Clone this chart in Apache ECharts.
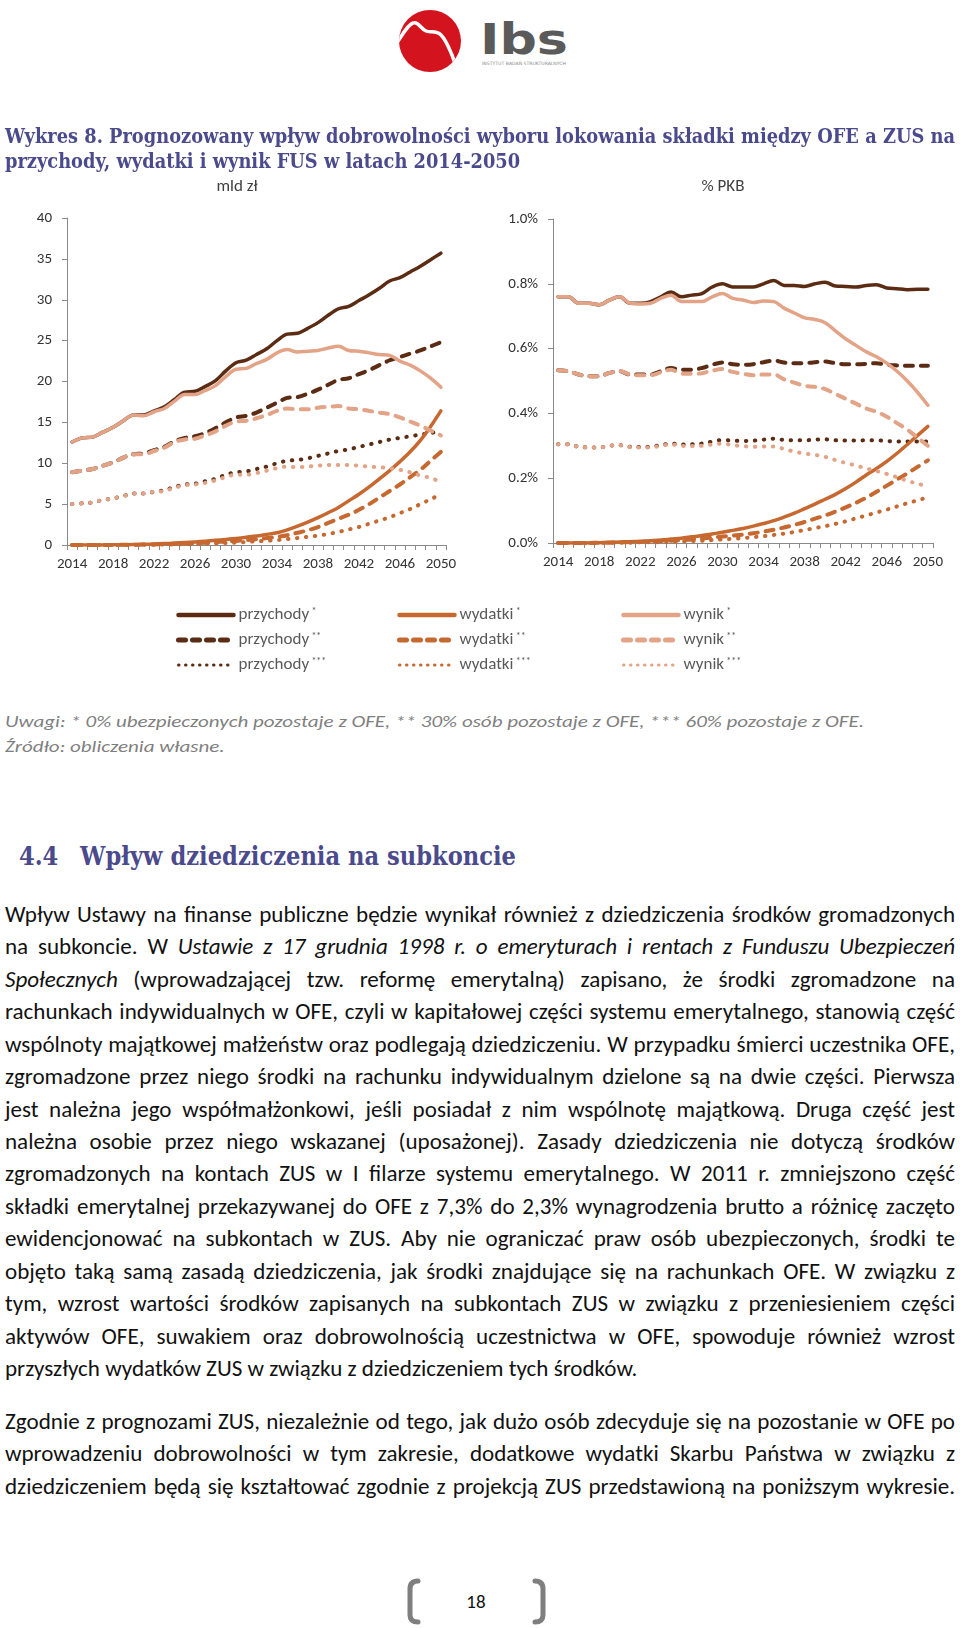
<!DOCTYPE html>
<html lang="pl">
<head>
<meta charset="utf-8">
<script src="https://cdn.jsdelivr.net/npm/echarts@6/dist/echarts.min.js"></script>
<style>
  html,body{margin:0;padding:0;background:#fff;}
  body{width:960px;height:1628px;position:relative;overflow:hidden;}
  .abs{position:absolute;}
  .title{left:5px;font-family:"DejaVu Serif","Liberation Serif",serif;font-weight:bold;font-size:21px;color:#4b4a8c;white-space:nowrap;transform-origin:left center;line-height:24px;}
  .note{left:5px;font-family:Carlito,Lato,sans-serif;font-style:italic;font-size:17px;color:#7f7f7f;white-space:nowrap;transform-origin:left center;line-height:22px;}
  .head{font-family:"DejaVu Serif","Liberation Serif",serif;font-weight:bold;font-size:26px;color:#4b4a8c;white-space:nowrap;transform-origin:left center;line-height:30px;}
  .ln{position:absolute;left:5px;width:950px;height:32px;line-height:32px;text-align:justify;text-align-last:justify;font-family:Carlito,Lato,sans-serif;font-size:18px;color:#111;}
  .ln.last{text-align-last:left;}
  #chart{position:absolute;left:0;top:0;width:960px;height:700px;}
</style>
</head>
<body>
<svg class="abs" style="left:0;top:0" width="960" height="80">
  <defs><clipPath id="cc"><circle cx="430" cy="41" r="31"/></clipPath></defs>
  <circle cx="430" cy="41" r="31" fill="#d3141f"/>
  <path clip-path="url(#cc)" d="M396,44 C402,36 407,25 413,23 C418,21 421,29 426,31 C431,33 436,30 441,35 C446,40 449,48 452,55 C454,61 456,66 458,72" stroke="#fff" stroke-width="3.5" fill="none"/>
  <text x="480" y="54" font-family="DejaVu Sans" font-weight="bold" font-size="42" fill="#5a5a5a" textLength="88" lengthAdjust="spacingAndGlyphs">Ibs</text>
  <text x="482" y="65" font-family="DejaVu Sans" font-size="4.5" fill="#888" textLength="84" lengthAdjust="spacingAndGlyphs">INSTYTUT BADAŃ STRUKTURALNYCH</text>
</svg>

<div id="chart"></div>

<div class="abs title" id="t1" style="top:124px">Wykres 8. Prognozowany wpływ dobrowolności wyboru lokowania składki między OFE a ZUS na</div>
<div class="abs title" id="t2" style="top:149px">przychody, wydatki i wynik FUS w latach 2014-2050</div>

<div class="abs note" id="n1" style="top:711px">Uwagi: * 0% ubezpieczonych pozostaje z OFE, ** 30% osób pozostaje z OFE, *** 60% pozostaje z OFE.</div>
<div class="abs note" id="n2" style="top:736px">Źródło: obliczenia własne.</div>

<div class="abs head" style="left:19px;top:841px" id="h0">4.4</div>
<div class="abs head" style="left:80px;top:841px" id="h1">Wpływ dziedziczenia na subkoncie</div>

<div id="body">
<div class="ln" style="top:898px">Wpływ Ustawy na finanse publiczne będzie wynikał również z dziedziczenia środków gromadzonych</div>
<div class="ln" style="top:930px">na subkoncie. W <i>Ustawie z 17 grudnia 1998 r. o emeryturach i rentach z Funduszu Ubezpieczeń</i></div>
<div class="ln" style="top:963px"><i>Społecznych</i> (wprowadzającej tzw. reformę emerytalną) zapisano, że środki zgromadzone na</div>
<div class="ln" style="top:995px">rachunkach indywidualnych w OFE, czyli w kapitałowej części systemu emerytalnego, stanowią część</div>
<div class="ln" style="top:1028px">wspólnoty majątkowej małżeństw oraz podlegają dziedziczeniu. W przypadku śmierci uczestnika OFE,</div>
<div class="ln" style="top:1060px">zgromadzone przez niego środki na rachunku indywidualnym dzielone są na dwie części. Pierwsza</div>
<div class="ln" style="top:1093px">jest należna jego współmałżonkowi, jeśli posiadał z nim wspólnotę majątkową. Druga część jest</div>
<div class="ln" style="top:1125px">należna osobie przez niego wskazanej (uposażonej). Zasady dziedziczenia nie dotyczą środków</div>
<div class="ln" style="top:1157px">zgromadzonych na kontach ZUS w I filarze systemu emerytalnego. W 2011 r. zmniejszono część</div>
<div class="ln" style="top:1190px">składki emerytalnej przekazywanej do OFE z 7,3% do 2,3% wynagrodzenia brutto a różnicę zaczęto</div>
<div class="ln" style="top:1222px">ewidencjonować na subkontach w ZUS. Aby nie ograniczać praw osób ubezpieczonych, środki te</div>
<div class="ln" style="top:1255px">objęto taką samą zasadą dziedziczenia, jak środki znajdujące się na rachunkach OFE. W związku z</div>
<div class="ln" style="top:1287px">tym, wzrost wartości środków zapisanych na subkontach ZUS w związku z przeniesieniem części</div>
<div class="ln" style="top:1320px">aktywów OFE, suwakiem oraz dobrowolnością uczestnictwa w OFE, spowoduje również wzrost</div>
<div class="ln last" style="top:1352px">przyszłych wydatków ZUS w związku z dziedziczeniem tych środków.</div>
<div class="ln" style="top:1405px">Zgodnie z prognozami ZUS, niezależnie od tego, jak dużo osób zdecyduje się na pozostanie w OFE po</div>
<div class="ln" style="top:1437px">wprowadzeniu dobrowolności w tym zakresie, dodatkowe wydatki Skarbu Państwa w związku z</div>
<div class="ln" style="top:1470px">dziedziczeniem będą się kształtować zgodnie z projekcją ZUS przedstawioną na poniższym wykresie.</div>
</div>

<svg class="abs" style="left:0;top:1570px" width="960" height="58">
  <path d="M418,11 Q410,11 410,19 L410,45 Q410,52 418,52" stroke="#7f7f7f" stroke-width="5" fill="none" stroke-linecap="round"/>
  <path d="M535,11 Q543,11 543,19 L543,45 Q543,52 535,52" stroke="#7f7f7f" stroke-width="5" fill="none" stroke-linecap="round"/>
  <text x="476" y="38" text-anchor="middle" font-family="Carlito,Lato,sans-serif" font-size="19" fill="#111">18</text>
</svg>

<script>
// ---------------- DATA ----------------
const years = ['2014','2015','2016','2017','2018','2019','2020','2021','2022','2023','2024','2025','2026','2027','2028','2029','2030','2031','2032','2033','2034','2035','2036','2037','2038','2039','2040','2041','2042','2043','2044','2045','2046','2047','2048','2049','2050'];
const leftTicks = [0,5,10,15,20,25,30,35,40];
const rightTicks = [0,0.2,0.4,0.6,0.8,1.0];
const unitLeft = 'mld zł';
const unitRight = '% PKB';

// mld zł
const przychody1_mld = [12.6,13.1,13.2,13.8,14.4,15.2,15.9,15.9,16.4,16.9,17.8,18.7,18.8,19.4,20.1,21.3,22.3,22.6,23.3,24.0,25.0,25.8,25.9,26.5,27.2,28.1,28.9,29.2,29.9,30.6,31.4,32.3,32.7,33.4,34.1,34.9,35.7];
const przychody2_mld = [8.9,9.1,9.3,9.7,10.1,10.7,11.1,11.2,11.6,12.0,12.7,13.1,13.3,13.7,14.3,15.0,15.6,15.8,16.2,16.8,17.4,18.0,18.1,18.5,19.0,19.6,20.2,20.4,20.9,21.4,22.0,22.6,23.0,23.4,23.8,24.3,24.8];
const przychody3_mld = [5.0,5.1,5.2,5.5,5.7,6.0,6.3,6.3,6.5,6.7,7.1,7.4,7.5,7.8,8.1,8.6,8.9,9.0,9.3,9.6,10.0,10.3,10.4,10.6,10.9,11.2,11.5,11.7,12.0,12.3,12.6,12.9,13.1,13.3,13.5,13.7,13.9];
const wydatki1_mld = [0,0,0,0,0.02,0.03,0.05,0.08,0.12,0.17,0.23,0.3,0.38,0.47,0.57,0.68,0.8,0.95,1.1,1.3,1.5,1.85,2.3,2.8,3.35,3.95,4.6,5.4,6.2,7.1,8.1,9.1,10.2,11.4,12.8,14.5,16.4];
const wydatki2_mld = [0,0,0,0,0.01,0.02,0.03,0.05,0.07,0.1,0.13,0.17,0.22,0.28,0.35,0.42,0.5,0.6,0.7,0.85,1.0,1.2,1.5,1.8,2.2,2.7,3.2,3.7,4.3,5.0,5.8,6.6,7.4,8.3,9.2,10.3,11.4];
const wydatki3_mld = [0,0,0,0,0.01,0.01,0.02,0.03,0.04,0.05,0.07,0.09,0.12,0.16,0.2,0.25,0.3,0.37,0.45,0.52,0.6,0.72,0.85,1.0,1.15,1.35,1.6,1.9,2.2,2.6,3.0,3.4,3.9,4.4,5.0,5.6,6.2];
const wynik1_mld = [12.6,13.1,13.2,13.8,14.4,15.2,15.9,15.8,16.3,16.7,17.6,18.4,18.4,18.9,19.5,20.6,21.5,21.6,22.2,22.7,23.5,23.9,23.6,23.7,23.8,24.1,24.3,23.8,23.7,23.5,23.3,23.2,22.5,22.0,21.3,20.4,19.3];
const wynik2_mld = [8.9,9.1,9.3,9.7,10.1,10.7,11.1,11.1,11.5,11.9,12.6,12.9,13.0,13.4,13.9,14.6,15.1,15.2,15.5,15.9,16.4,16.7,16.6,16.6,16.8,16.9,17.0,16.7,16.6,16.4,16.2,16.0,15.6,15.1,14.6,14.0,13.4];
const wynik3_mld = [5.0,5.1,5.2,5.5,5.7,6.0,6.3,6.3,6.5,6.6,7.0,7.3,7.4,7.6,7.9,8.3,8.6,8.6,8.8,9.1,9.4,9.6,9.5,9.6,9.7,9.8,9.8,9.8,9.7,9.6,9.5,9.4,9.2,8.9,8.5,8.2,7.7];

// % PKB
const przychody1_pkb = [0.76,0.76,0.74,0.74,0.735,0.75,0.76,0.74,0.74,0.745,0.76,0.775,0.76,0.765,0.77,0.79,0.80,0.79,0.79,0.79,0.80,0.81,0.795,0.795,0.792,0.80,0.805,0.793,0.792,0.79,0.795,0.797,0.787,0.785,0.782,0.783,0.783];
const przychody2_pkb = [0.533,0.53,0.52,0.515,0.515,0.525,0.53,0.52,0.52,0.52,0.53,0.54,0.535,0.535,0.54,0.55,0.557,0.552,0.55,0.552,0.558,0.563,0.557,0.555,0.555,0.558,0.56,0.555,0.552,0.552,0.553,0.555,0.55,0.548,0.547,0.547,0.547];
const przychody3_pkb = [0.305,0.305,0.297,0.295,0.295,0.3,0.302,0.297,0.296,0.297,0.302,0.307,0.304,0.305,0.307,0.313,0.318,0.316,0.315,0.316,0.319,0.322,0.318,0.317,0.317,0.319,0.32,0.317,0.316,0.316,0.317,0.317,0.315,0.313,0.313,0.313,0.313];
const wydatki1_pkb = [0,0,0,0,0.001,0.002,0.003,0.004,0.005,0.007,0.009,0.012,0.015,0.019,0.023,0.028,0.033,0.039,0.045,0.052,0.06,0.069,0.08,0.092,0.106,0.12,0.135,0.15,0.168,0.188,0.21,0.23,0.252,0.277,0.304,0.332,0.36];
const wydatki2_pkb = [0,0,0,0,0.001,0.001,0.002,0.003,0.004,0.005,0.006,0.007,0.009,0.011,0.014,0.017,0.02,0.023,0.026,0.03,0.035,0.041,0.048,0.056,0.065,0.075,0.085,0.097,0.11,0.124,0.14,0.158,0.177,0.196,0.215,0.235,0.255];
const wydatki3_pkb = [0,0,0,0,0,0.001,0.001,0.001,0.002,0.002,0.003,0.004,0.005,0.006,0.007,0.009,0.011,0.013,0.015,0.018,0.021,0.025,0.029,0.034,0.04,0.046,0.052,0.059,0.067,0.076,0.085,0.094,0.103,0.113,0.123,0.132,0.141];
const wynik1_pkb = [0.76,0.76,0.74,0.74,0.735,0.75,0.76,0.74,0.738,0.74,0.755,0.765,0.745,0.745,0.745,0.76,0.77,0.755,0.75,0.742,0.747,0.745,0.725,0.71,0.695,0.69,0.68,0.655,0.63,0.61,0.59,0.575,0.555,0.53,0.50,0.465,0.425];
const wynik2_pkb = [0.533,0.53,0.52,0.515,0.515,0.525,0.53,0.52,0.518,0.518,0.527,0.535,0.523,0.522,0.524,0.532,0.537,0.528,0.522,0.518,0.52,0.52,0.505,0.495,0.485,0.482,0.475,0.46,0.445,0.43,0.415,0.405,0.39,0.37,0.35,0.325,0.30];
const wynik3_pkb = [0.305,0.305,0.297,0.295,0.295,0.3,0.302,0.296,0.295,0.295,0.3,0.304,0.3,0.299,0.3,0.304,0.307,0.302,0.299,0.297,0.298,0.298,0.29,0.282,0.276,0.272,0.266,0.256,0.247,0.239,0.23,0.222,0.213,0.203,0.192,0.183,0.175];

// ---------------- STYLE ----------------
const FONT = 'Carlito, Lato, sans-serif';
const colors = { przychody:'#5b2c13', wydatki:'#c6682f', wynik:'#e3a386' };
const dash = {
  '*':   { type:'solid', width:3.5, cap:'round', lw:4.5, ltype:'solid' },
  '**':  { type:[8,8], width:4, cap:'round', lw:5, ltype:[7,7] },
  '***': { type:[0.5,8.5], width:4, cap:'round', lw:3, ltype:[0.5,6.5] }
};

const groups = [
  ['przychody','*', przychody1_mld, przychody1_pkb],
  ['przychody','**', przychody2_mld, przychody2_pkb],
  ['przychody','***', przychody3_mld, przychody3_pkb],
  ['wydatki','*', wydatki1_mld, wydatki1_pkb],
  ['wydatki','**', wydatki2_mld, wydatki2_pkb],
  ['wydatki','***', wydatki3_mld, wydatki3_pkb],
  ['wynik','*', wynik1_mld, wynik1_pkb],
  ['wynik','**', wynik2_mld, wynik2_pkb],
  ['wynik','***', wynik3_mld, wynik3_pkb]
];

const series = [];
groups.forEach(([kind, st, dl, dr]) => {
  [0,1].forEach(ax => {
    series.push({
      name: kind + ' ' + st,
      type: 'line',
      xAxisIndex: ax, yAxisIndex: ax,
      data: ax === 0 ? dl : dr,
      smooth: 0.35,
      symbol: 'none',
      showSymbol: false,
      animation: false,
      lineStyle: { color: colors[kind], width: dash[st].width, type: dash[st].type, cap: dash[st].cap, join:'round' },
      itemStyle: { color: colors[kind] }
    });
  });
});

function xAxis(gi){
  return {
    type:'category', gridIndex:gi, data:years, boundaryGap:true,
    axisLine:{ show:true, lineStyle:{ color:'#8a8a8a', width:1 } },
    axisTick:{ show:true, interval:0, length:5, lineStyle:{ color:'#8a8a8a' } },
    axisLabel:{ interval:3, margin:12, fontSize:15, color:'#333', fontFamily:FONT },
    splitLine:{ show:false }
  };
}
function yAxis(gi, ticks, fmt){
  return {
    type:'value', gridIndex:gi,
    min:ticks[0], max:ticks[ticks.length-1], interval:ticks[1]-ticks[0],
    axisLine:{ show:true, lineStyle:{ color:'#8a8a8a', width:1 } },
    axisTick:{ show:true, length:5, lineStyle:{ color:'#8a8a8a' } },
    axisLabel:{ margin:15, fontSize:15, color:'#333', fontFamily:FONT, formatter:fmt },
    splitLine:{ show:false }
  };
}

function legend(left, kind){
  return {
    orient:'vertical', left:left, top:601,
    itemWidth:55, itemHeight:14, itemGap:7.5,
    itemStyle:{ opacity:0, borderWidth:0 },
    data:['*','**','***'].map(s => ({
      name: kind + ' ' + s,
      lineStyle:{ width: dash[s].lw, type: dash[s].ltype, cap:'round', color: colors[kind] }
    })),
    selectedMode:false,
    formatter: n => { const p = n.split(' '); return '{a|' + p[0] + '}{b| ' + p[1] + '}'; },
    textStyle:{
      color:'#595959', fontFamily:FONT, fontSize:17,
      rich:{
        a:{ fontSize:17, lineHeight:18, color:'#595959', fontFamily:FONT },
        b:{ fontSize:10, lineHeight:18, color:'#595959', fontFamily:FONT, verticalAlign:'top' }
      }
    }
  };
}

const chart = echarts.init(document.getElementById('chart'), null, { renderer:'canvas' });
chart.setOption({
  animation:false,
  backgroundColor:'transparent',
  grid:[
    { left:67, top:218, width:379, height:327, containLabel:false },
    { left:553, top:219, width:380, height:324, containLabel:false }
  ],
  xAxis:[ xAxis(0), xAxis(1) ],
  yAxis:[
    yAxis(0, leftTicks, v => String(v)),
    yAxis(1, rightTicks, v => v.toFixed(1) + '%')
  ],
  legend:[ legend(171,'przychody'), legend(392,'wydatki'), legend(616,'wynik') ],
  graphic:[
    { type:'text', x:237, y:187, style:{ text:unitLeft, font:'17px ' + FONT, fill:'#404040', align:'center', verticalAlign:'middle' } },
    { type:'text', x:723, y:187, style:{ text:unitRight, font:'17px ' + FONT, fill:'#404040', align:'center', verticalAlign:'middle' } }
  ],
  series: series
});

// ------------- text fitting -------------
function scaleTo(el, target){
  el.style.transform = 'none';
  el.style.display = 'inline-block';
  const w = el.getBoundingClientRect().width;
  const s = target / w;
  el.style.transform = 'scaleX(' + s + ')';
  return s;
}
function fitAll(){
  const s = scaleTo(document.getElementById('t1'), 950);
  const t2 = document.getElementById('t2'); t2.style.display='inline-block'; t2.style.transform = 'scaleX(' + s + ')';
  const sn = scaleTo(document.getElementById('n1'), 859);
  const n2 = document.getElementById('n2'); n2.style.display='inline-block'; n2.style.transform = 'scaleX(' + sn + ')';
  const sh = scaleTo(document.getElementById('h1'), 436);
  const h0 = document.getElementById('h0'); h0.style.display='inline-block'; h0.style.transform = 'scaleX(' + sh + ')';

  const lines = document.querySelectorAll('.ln');
  const meas = document.createElement('span');
  meas.style.cssText = 'position:absolute;left:0;top:0;visibility:hidden;white-space:nowrap;font-family:' + FONT + ';font-size:18px;';
  document.body.appendChild(meas);
  let maxW = 0;
  lines.forEach(l => { meas.innerHTML = l.innerHTML; maxW = Math.max(maxW, meas.getBoundingClientRect().width); });
  document.body.removeChild(meas);
  const fs = 18 * 944 / maxW;
  lines.forEach(l => { l.style.fontSize = fs + 'px'; });
}
fitAll();
if (document.fonts && document.fonts.ready) document.fonts.ready.then(fitAll);
</script>
</body>
</html>
